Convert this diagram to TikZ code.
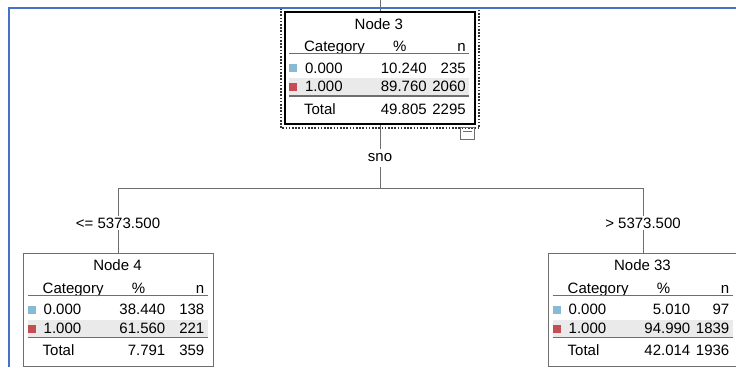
\documentclass[tikz,border=0pt]{standalone}
\usepackage{fontspec}
\setmainfont{Liberation Sans}
\usetikzlibrary{positioning}

\definecolor{frameblue}{RGB}{68,114,196}
\definecolor{catzero}{RGB}{137,186,212}
\definecolor{catone}{RGB}{196,78,84}
\definecolor{rowgray}{RGB}{234,234,234}
\definecolor{linegray}{RGB}{110,110,110}

% one category table inside a tree box, #1 = name of the box node
\newcommand{\treetable}[8]{%
  \fill[rowgray] ([shift={(5,67)}]#1.north west) rectangle ([shift={(185,84)}]#1.north west);
  \node[cell,anchor=mid] (#1title) at ([shift={(95,15.5)}]#1.north west) {#2};
  \node[cell,anchor=mid west] (#1cat) at ([shift={(20,38)}]#1.north west) {Category};
  \node[cell,anchor=mid] (#1pct) at ([shift={(116,38)}]#1.north west) {\%};
  \node[cell,anchor=mid east] (#1n) at ([shift={(182,38)}]#1.north west) {n};
  \draw[rule] ([shift={(5,43)}]#1.north west) -- ([shift={(185,43)}]#1.north west);
  % category 0.000
  \fill[catzero] ([shift={(5,53)}]#1.north west) rectangle ([shift={(13,61)}]#1.north west);
  \node[cell,anchor=mid west] (#1a) at ([shift={(21,59.5)}]#1.north west) {0.000};
  \node[cell,anchor=mid east] (#1ap) at ([shift={(143,59.5)}]#1.north west) {#3};
  \node[cell,anchor=mid east] (#1an) at ([shift={(182,59.5)}]#1.north west) {#4};
  % category 1.000
  \fill[catone] ([shift={(5,72)}]#1.north west) rectangle ([shift={(13,80)}]#1.north west);
  \node[cell,anchor=mid west] (#1b) at ([shift={(21,78)}]#1.north west) {1.000};
  \node[cell,anchor=mid east] (#1bp) at ([shift={(143,78)}]#1.north west) {#5};
  \node[cell,anchor=mid east] (#1bn) at ([shift={(182,78)}]#1.north west) {#6};
  \draw[rule,line width=1.2pt] ([shift={(5,85)}]#1.north west) -- ([shift={(185,85)}]#1.north west);
  % total
  \node[cell,anchor=mid west] (#1t) at ([shift={(20,100.5)}]#1.north west) {Total};
  \node[cell,anchor=mid east] (#1tp) at ([shift={(143,100.5)}]#1.north west) {#7};
  \node[cell,anchor=mid east] (#1tn) at ([shift={(182,100.5)}]#1.north west) {#8};
}

\begin{document}
\begin{tikzpicture}[x=1pt, y=-1pt,
  font=\fontsize{15}{17}\selectfont,
  treebox/.style ={draw=linegray, line width=1pt, minimum width=190pt, minimum height=113pt, inner sep=0pt},
  rootbox/.style ={draw=black, line width=2.2pt, minimum width=190pt, minimum height=112pt, inner sep=0pt},
  selframe/.style={draw=black!80, line width=1.6pt, dash pattern=on 1.6pt off 1.6pt},
  toggle/.style  ={draw=linegray, line width=0.8pt, minimum width=14pt, minimum height=12pt, inner sep=0pt},
  cell/.style    ={inner sep=0pt},
  rule/.style    ={draw=linegray, line width=0.9pt},
  conn/.style    ={draw=linegray, line width=1pt},
  split/.style   ={inner xsep=2pt, inner ysep=1pt},
  frame/.style   ={draw=frameblue, line width=2pt}]

  \useasboundingbox (0,0) rectangle (736,367);

  % ---------------- tree boxes ----------------
  \node[rootbox]  (n3)  at (380,68)    {};
  \node[treebox]  (n4)  at (118,309.5) {};
  \node[treebox]  (n33) at (643,309.5) {};

  \treetable{n3}{Node 3}{10.240}{235}{89.760}{2060}{49.805}{2295}
  \treetable{n4}{Node 4}{38.440}{138}{61.560}{221}{7.791}{359}
  \treetable{n33}{Node 33}{5.010}{97}{94.990}{1839}{42.014}{1936}

  % selected node: dotted frame + collapse toggle
  \draw[selframe] ([shift={(-3,-3)}]n3.north west) rectangle ([shift={(3,3)}]n3.south east);
  \node[toggle] (n3tog) at (467.5,133) {};
  \draw[linegray, line width=0.8pt] ([shift={(3,-2)}]n3tog.west) -- ([shift={(-3,-2)}]n3tog.east);

  % ---------------- split labels ----------------
  \node[split, inner ysep=5pt] (sno) at (380,158) {sno};
  \node[split] (le) at (118,223) {<= 5373.500};
  \node[split] (gt) at (643,223) {> 5373.500};

  % ---------------- connectors ----------------
  \coordinate (up)     at (380,0);
  \coordinate (fork)   at (380,188);
  \coordinate (lfork)  at (118,188);
  \coordinate (rfork)  at (643,188);

  \draw[conn] (up) -- (n3);
  \draw[conn] (n3) -- (sno);
  \draw[conn] (sno) -- (fork);
  \draw[conn] (lfork) -- (rfork);
  \draw[conn] (lfork) -- (le);  \draw[conn] (le) -- (n4);
  \draw[conn] (rfork) -- (gt);  \draw[conn] (gt) -- (n33);

  % ---------------- page frame ----------------
  \draw[frame] (9,367) -- (9,7.5) -- (736,7.5);
\end{tikzpicture}
\end{document}
